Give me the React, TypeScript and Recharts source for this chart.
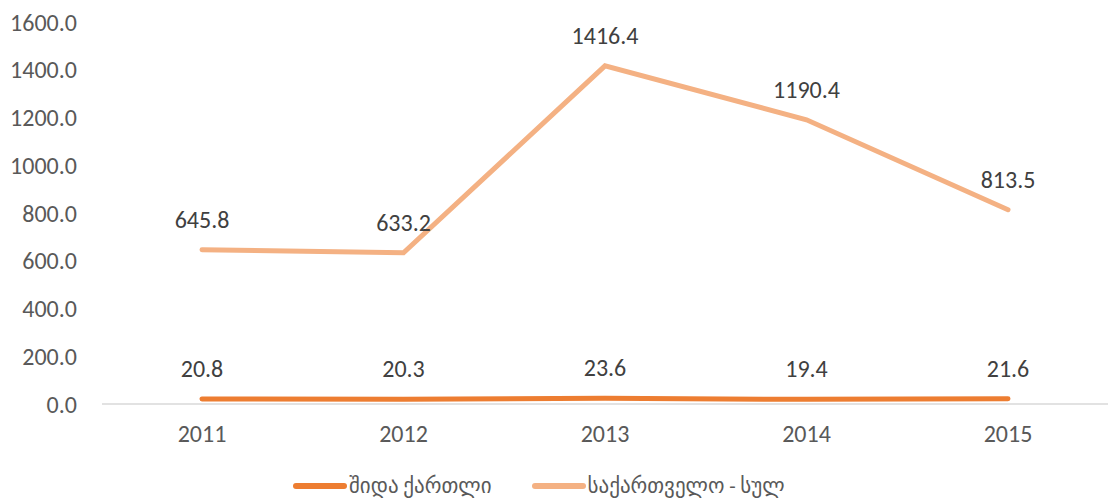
import { LineChart, Line, XAxis, YAxis, Legend, LabelList } from 'recharts'

const years = ['2011', '2012', '2013', '2014', '2015']
const shidaKartli = [20.8, 20.3, 23.6, 19.4, 21.6]
const georgiaTotal = [645.8, 633.2, 1416.4, 1190.4, 813.5]
const yTicks = [0, 200, 400, 600, 800, 1000, 1200, 1400, 1600]

const DARK = '#ED7D31'
const LIGHT = '#F4B183'
const TEXT = '#595959'
const FONT = 'Calibri, Carlito, "Open Sans", "DejaVu Sans", sans-serif'

const data = years.map((year, i) => ({
  year,
  shida: shidaKartli[i],
  total: georgiaTotal[i],
}))

const series = [
  { key: 'shida', name: 'შიდა ქართლი', color: DARK },
  { key: 'total', name: 'საქართველო - სულ', color: LIGHT },
]

function LegendContent() {
  return (
    <div style={{ display: 'flex', gap: 39, fontFamily: FONT, fontSize: 21, color: TEXT, marginLeft: 292 }}>
      {series.map((s) => (
        <div key={s.key} style={{ display: 'flex', alignItems: 'center' }}>
          <svg width={56} height={10}>
            <line x1={4} y1={5} x2={52} y2={5} stroke={s.color} strokeWidth={6} strokeLinecap="round" />
          </svg>
          <span style={{ marginLeft: 1 }}>{s.name}</span>
        </div>
      ))}
    </div>
  )
}

export default function App() {
  return (
    <div style={{ position: 'absolute', left: 0, top: 0, background: '#fff' }}>
      <LineChart width={1111} height={501} data={data} margin={{ top: 22, right: 3, left: 0, bottom: 0 }}>
        <XAxis
          dataKey="year"
          axisLine={{ stroke: '#D9D9D9', strokeWidth: 1.5 }}
          tickLine={false}
          tick={{ fill: TEXT, fontSize: 24, fontFamily: FONT }}
          tickMargin={15}
          padding={{ left: 100, right: 100 }}
          height={60}
        />
        <YAxis
          domain={[0, 1600]}
          ticks={yTicks}
          axisLine={false}
          tickLine={false}
          width={102}
          tick={{ fill: TEXT, fontSize: 24, fontFamily: FONT }}
          tickMargin={19}
          tickFormatter={(v: number) => v.toFixed(1)}
        />
        <Legend verticalAlign="bottom" height={37} wrapperStyle={{ bottom: -9 }} content={<LegendContent />} />
        {series.map((s) => (
          <Line
            key={s.key}
            dataKey={s.key}
            name={s.name}
            stroke={s.color}
            strokeWidth={5}
            strokeLinecap="round"
            dot={false}
            activeDot={false}
            isAnimationActive={false}
          >
            <LabelList
              dataKey={s.key}
              position="top"
              offset={22}
              fill="#404040"
              fontSize={24}
              fontFamily={FONT}
              formatter={(v: number) => v.toFixed(1)}
            />
          </Line>
        ))}
      </LineChart>
    </div>
  )
}
